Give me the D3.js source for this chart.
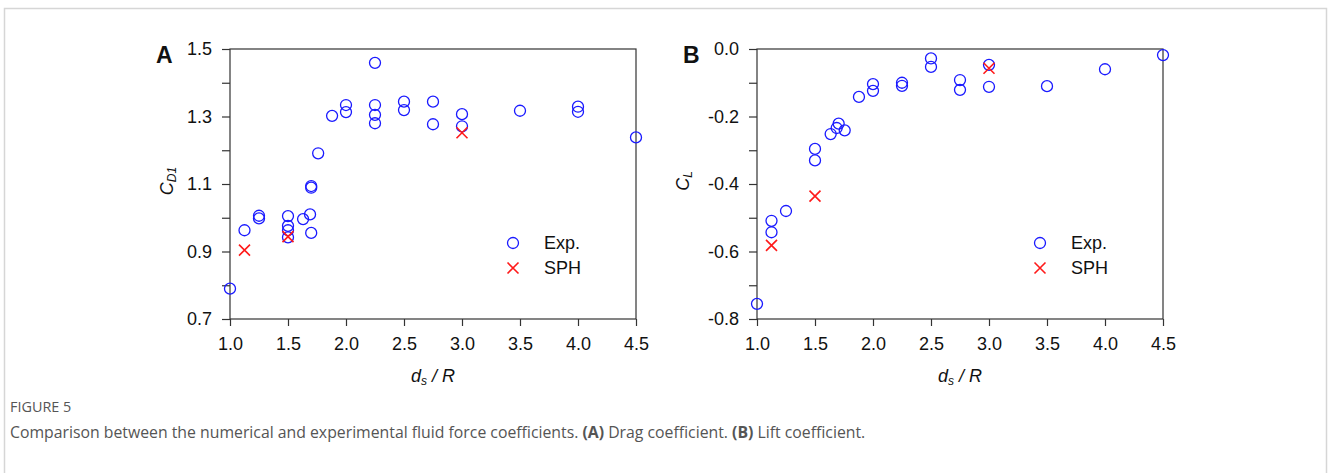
<!DOCTYPE html>
<html>
<head>
<meta charset="utf-8">
<script src="https://cdn.jsdelivr.net/npm/d3@7/dist/d3.min.js"></script>
<style>
  body { margin: 0; background: #fff; }
  .axis path, .axis line { stroke: #333; stroke-width: 1.2; }
  .axis text { fill: #111; }
  .frame { fill: none; stroke: #333; stroke-width: 1.2; }
  .exp { fill: none; stroke: #1a1aff; stroke-width: 1.3; }
  .sph { stroke: #ff1a1a; stroke-width: 1.6; }
  .lbl { font-family: "Liberation Sans", Arial, sans-serif; fill: #111; }
  .cap { font-family: "Open Sans", sans-serif; fill: #555; }
</style>
</head>
<body>
<div class="js-container"></div>
<script>
;(function() {
  'use strict';

  // x axis: spacing ratio ds / R
  var ratioTicks = [1.0, 1.5, 2.0, 2.5, 3.0, 3.5, 4.0, 4.5];
  var cdTicks = [0.7, 0.9, 1.1, 1.3, 1.5];
  var cdMinor = [0.8, 1.0, 1.2, 1.4];
  var clTicks = [-0.8, -0.6, -0.4, -0.2, 0.0];
  var clMinor = [-0.7, -0.5, -0.3, -0.1];

  // (A) drag coefficient
  var expRatioA = [1.0, 1.125, 1.25, 1.25, 1.5, 1.5, 1.5, 1.5, 1.63, 1.69, 1.7, 1.7, 1.7,
                   1.76, 1.88, 2.0, 2.0, 2.25, 2.25, 2.25, 2.25, 2.5, 2.5, 2.75, 2.75,
                   3.0, 3.0, 3.5, 4.0, 4.0, 4.5];
  var expCD = [0.79, 0.963, 1.006, 0.998, 1.005, 0.976, 0.963, 0.942, 0.996, 1.01, 1.094, 1.089, 0.955,
               1.191, 1.302, 1.334, 1.313, 1.459, 1.334, 1.305, 1.280, 1.344, 1.319, 1.344, 1.277,
               1.307, 1.271, 1.317, 1.329, 1.314, 1.238];
  var sphRatioA = [1.125, 1.5, 3.0];
  var sphCD = [0.904, 0.944, 1.252];

  // (B) lift coefficient
  var expRatioB = [1.0, 1.125, 1.125, 1.25, 1.5, 1.5, 1.635, 1.687, 1.704, 1.756, 1.879, 2.0, 2.0,
                   2.25, 2.25, 2.5, 2.5, 2.75, 2.75, 3.0, 3.0, 3.5, 4.0, 4.5];
  var expCL = [-0.755, -0.509, -0.543, -0.480, -0.296, -0.330, -0.252, -0.234, -0.221, -0.241, -0.142, -0.104, -0.124,
               -0.100, -0.109, -0.028, -0.053, -0.092, -0.121, -0.047, -0.112, -0.110, -0.060, -0.018];
  var sphRatioB = [1.125, 1.5, 3.0];
  var sphCL = [-0.582, -0.436, -0.057];

  var legendNames = ['Exp.', 'SPH'];

  var W = 1330, H = 473;
  var plotW = 406, plotH = 270, plotTop = 49;
  var axisFont = '"Liberation Sans", Arial, sans-serif';

  var svg = d3.select('.js-container').append('svg')
              .attr('width', W)
              .attr('height', H);

  // light page frame round the figure
  svg.append('path')
      .attr('d', 'M4.5,' + (H + 5) + 'V8.5H1326.5V' + (H + 5))
      .attr('fill', 'none')
      .attr('stroke', '#d6d6d6')
      .attr('stroke-width', 1.5);

  drawPanel({
    left: 230, letter: 'A', yDomain: [0.7, 1.5], yTicks: cdTicks, yMinor: cdMinor,
    fmt: d3.format('.1f'), expX: expRatioA, expY: expCD, sphX: sphRatioA, sphY: sphCD,
    yLabel: ['C', 'D1'], yLabelX: 173
  });

  drawPanel({
    left: 757, letter: 'B', yDomain: [-0.8, 0.0], yTicks: clTicks, yMinor: clMinor,
    fmt: function(d) { return d3.format('.1f')(d).replace('−', '-'); },
    expX: expRatioB, expY: expCL, sphX: sphRatioB, sphY: sphCL,
    yLabel: ['C', 'L'], yLabelX: 689
  });

  drawCaption();

  /**
   * Draws one scatter panel: box, axes, circles, crosses and legend.
   */
  function drawPanel(p) {
    var x = d3.scaleLinear().domain([1.0, 4.5]).range([0, plotW]);
    var y = d3.scaleLinear().domain(p.yDomain).range([plotH, 0]);

    var g = svg.append('g')
               .attr('transform', 'translate(' + p.left + ',' + plotTop + ')');

    g.append('rect')
        .classed('frame', true)
        .attr('width', plotW)
        .attr('height', plotH);

    g.append('g').classed('axis', true)
        .call(d3.axisLeft(y).tickValues(p.yTicks).tickFormat(p.fmt)
                .tickSizeInner(8).tickSizeOuter(0).tickPadding(10))
        .attr('font-family', axisFont)
        .attr('font-size', 18);

    g.append('g').classed('axis', true)
        .call(d3.axisLeft(y).tickValues(p.yMinor).tickFormat('')
                .tickSizeInner(8).tickSizeOuter(0));

    g.append('g').classed('axis', true)
        .attr('transform', 'translate(0,' + plotH + ')')
        .call(d3.axisBottom(x).tickValues(ratioTicks).tickFormat(d3.format('.1f'))
                .tickSizeInner(7).tickSizeOuter(0).tickPadding(11))
        .attr('font-family', axisFont)
        .attr('font-size', 18);

    g.selectAll('.axis .domain').remove();

    // panel letter
    svg.append('text')
        .classed('lbl', true)
        .attr('x', p.left - 74)
        .attr('y', plotTop + 14)
        .attr('font-size', 23)
        .attr('font-weight', 'bold')
        .text(p.letter);

    // y label, rotated
    var yl = svg.append('text')
        .classed('lbl', true)
        .attr('transform', 'translate(' + p.yLabelX + ',' + (plotTop + plotH / 2 - 3) + ') rotate(-90)')
        .attr('text-anchor', 'middle')
        .attr('font-size', 18)
        .attr('font-style', 'italic');
    yl.append('tspan').text(p.yLabel[0]);
    yl.append('tspan').attr('font-size', 12).attr('dy', 3).text(p.yLabel[1]);

    // x label
    var xl = svg.append('text')
        .classed('lbl', true)
        .attr('x', p.left + plotW / 2)
        .attr('y', 382)
        .attr('text-anchor', 'middle')
        .attr('font-size', 18)
        .attr('font-style', 'italic');
    xl.append('tspan').text('d');
    xl.append('tspan').attr('font-size', 12).attr('dy', 3).text('s');
    xl.append('tspan').attr('dy', -3).text(' / R');

    var exp = d3.zip(p.expX, p.expY);
    var sph = d3.zip(p.sphX, p.sphY);

    g.selectAll('.exp-pt')
        .data(exp)
        .enter().append('circle')
        .classed('exp', true)
        .attr('cx', function(d) { return x(d[0]); })
        .attr('cy', function(d) { return y(d[1]); })
        .attr('r', 5.5);

    g.selectAll('.sph-pt')
        .data(sph)
        .enter().append('path')
        .classed('sph', true)
        .attr('d', function(d) { return crossPath(x(d[0]), y(d[1]), 5.5); });

    // legend
    var lx = p.left + 283, ly = 243;
    g.append('circle').classed('exp', true)
        .attr('cx', lx - p.left).attr('cy', ly - plotTop).attr('r', 5.5);
    svg.append('path').classed('sph', true)
        .attr('d', crossPath(lx, ly + 25, 5.5));
    svg.selectAll(null)
        .data(legendNames)
        .enter().append('text')
        .classed('lbl', true)
        .attr('x', lx + 31)
        .attr('y', function(d, i) { return ly + 6 + i * 25; })
        .attr('font-size', 18)
        .text(function(d) { return d; });
  }

  function crossPath(cx, cy, s) {
    return 'M' + (cx - s) + ',' + (cy - s) + 'L' + (cx + s) + ',' + (cy + s) +
           'M' + (cx - s) + ',' + (cy + s) + 'L' + (cx + s) + ',' + (cy - s);
  }

  /**
   * Figure number and caption below the panels.
   */
  function drawCaption() {
    svg.append('text')
        .classed('cap', true)
        .attr('x', 10)
        .attr('y', 412)
        .attr('font-size', 14.4)
        .text('FIGURE 5');

    var t = svg.append('text')
        .classed('cap', true)
        .attr('x', 10)
        .attr('y', 438)
        .attr('font-size', 15.8);
    t.append('tspan').text('Comparison between the numerical and experimental fluid force coefficients. ');
    t.append('tspan').attr('font-weight', 'bold').text('(A)');
    t.append('tspan').text(' Drag coefficient. ');
    t.append('tspan').attr('font-weight', 'bold').text('(B)');
    t.append('tspan').text(' Lift coefficient.');
  }

}());
</script>
</body>
</html>
